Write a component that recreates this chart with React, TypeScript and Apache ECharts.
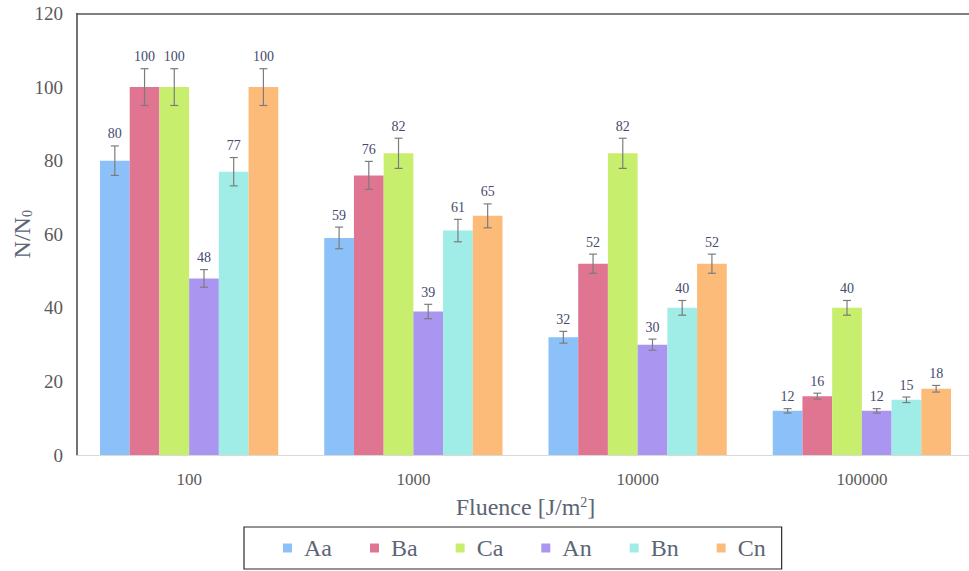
import React, { useEffect, useRef } from "react";
import * as echarts from "echarts";

// Fluence levels on the x axis
const fluences = ["100", "1000", "10000", "100000"];

// Survival ratio N/N0 per sample
const seriesNames = ["Aa", "Ba", "Ca", "An", "Bn", "Cn"];
const aa = [80, 59, 32, 12];
const ba = [100, 76, 52, 16];
const ca = [100, 82, 82, 40];
const an = [48, 39, 30, 12];
const bn = [77, 61, 40, 15];
const cn = [100, 65, 52, 18];

// Error bar half-heights
const aaErr = [4, 2.95, 1.6, 0.6];
const baErr = [5, 3.8, 2.6, 0.8];
const caErr = [5, 4.1, 4.1, 2];
const anErr = [2.4, 1.95, 1.5, 0.6];
const bnErr = [3.85, 3.05, 2, 0.75];
const cnErr = [5, 3.25, 2.6, 0.9];

const colors = ["#8cc0f8", "#e07592", "#c8ee6e", "#aa96f0", "#a0ece6", "#fdbb7a"];

const yTicks = { min: 0, max: 120, interval: 20 };

const SERIF = "Liberation Serif";
const CATEGORY_GAP = 0.205;

export default function App() {
  const ref = useRef<HTMLDivElement>(null);

  useEffect(() => {
    if (!ref.current) return;
    const chart = echarts.init(ref.current, null, { renderer: "svg" });

    const values = [aa, ba, ca, an, bn, cn];
    const errors = [aaErr, baErr, caErr, anErr, bnErr, cnErr];

    const barSeries = seriesNames.map((name, k) => ({
      name,
      type: "bar",
      data: values[k],
      barGap: "0%",
      barCategoryGap: `${CATEGORY_GAP * 100}%`,
      itemStyle: { color: colors[k] },
      z: 2,
    }));

    const errData: number[][] = [];
    values.forEach((vals, k) => {
      vals.forEach((v, i) => errData.push([i, v, errors[k][i], k]));
    });

    const errorSeries = {
      type: "custom",
      name: "error",
      xAxisIndex: 0,
      yAxisIndex: 0,
      z: 5,
      encode: { x: 0, y: 1 },
      data: errData,
      renderItem: (_params: any, api: any) => {
        const cat = api.value(0);
        const val = api.value(1);
        const err = api.value(2);
        const k = api.value(3);
        const band = api.size([1, 0])[0];
        const groupW = band * (1 - CATEGORY_GAP);
        const bw = groupW / seriesNames.length;
        const c = api.coord([cat, val]);
        const x = c[0] - groupW / 2 + bw * (k + 0.5);
        const yTop = api.coord([cat, val + err])[1];
        const yBot = api.coord([cat, val - err])[1];
        const cap = 4;
        const stroke = { stroke: "#7c7c7c", lineWidth: 1.2 };
        return {
          type: "group",
          children: [
            { type: "line", shape: { x1: x, y1: yTop, x2: x, y2: yBot }, style: stroke },
            { type: "line", shape: { x1: x - cap, y1: yTop, x2: x + cap, y2: yTop }, style: stroke },
            { type: "line", shape: { x1: x - cap, y1: yBot, x2: x + cap, y2: yBot }, style: stroke },
            {
              type: "text",
              x,
              y: yTop - 5,
              style: {
                text: String(val),
                align: "center",
                verticalAlign: "bottom",
                fill: "#454a6e",
                fontSize: 14,
                fontFamily: SERIF,
              },
            },
          ],
        };
      },
    };

    chart.setOption({
      animation: false,
      backgroundColor: "#ffffff",
      grid: {
        left: 77,
        right: -5,
        top: 13.5,
        bottom: 116,
        containLabel: false,
        outerBoundsMode: "none",
      },
      legend: {
        data: seriesNames,
        left: 244,
        top: 527,
        orient: "horizontal",
        icon: "rect",
        itemWidth: 9,
        itemHeight: 9,
        itemGap: 38,
        padding: [9, 16, 9, 39],
        borderColor: "#2a2a2a",
        borderWidth: 1.2,
        formatter: "{t|{name}}",
        textStyle: {
          fontFamily: SERIF,
          rich: {
            t: {
              fontFamily: SERIF,
              fontSize: 24,
              color: "#5b6574",
              padding: [0, 0, 0, 7],
            },
          },
        },
      },
      xAxis: [
        {
          type: "category",
          data: fluences,
          position: "bottom",
          axisLine: { show: true, lineStyle: { color: "#d9d9d9", width: 1 } },
          axisTick: { show: false },
          axisLabel: {
            margin: 16,
            fontFamily: SERIF,
            fontSize: 17,
            color: "#5a5a5a",
          },
          name: "{a|Fluence [J/m}{s|2}{a|]}",
          nameLocation: "middle",
          nameGap: 40,
          nameMoveOverlap: false,
          nameTextStyle: {
            fontFamily: SERIF,
            rich: {
              a: {
                fontFamily: SERIF,
                fontSize: 24,
                color: "#5b6574",
                lineHeight: 26,
                verticalAlign: "top",
              },
              s: {
                fontFamily: SERIF,
                fontSize: 14,
                color: "#5b6574",
                lineHeight: 18,
                verticalAlign: "top",
              },
            },
          },
        },
        {
          type: "category",
          data: fluences,
          position: "top",
          axisLine: { show: true, lineStyle: { color: "#555555", width: 1.5 } },
          axisTick: { show: false },
          axisLabel: { show: false },
        },
      ],
      yAxis: {
        type: "value",
        min: yTicks.min,
        max: yTicks.max,
        interval: yTicks.interval,
        axisLine: { show: true, lineStyle: { color: "#444444", width: 1.5 } },
        axisTick: { show: false },
        splitLine: { show: false },
        axisLabel: {
          margin: 14,
          fontFamily: SERIF,
          fontSize: 19,
          color: "#5a5a5a",
        },
        name: "{a|N/N}{s|0}",
        nameLocation: "middle",
        nameGap: 43,
        nameMoveOverlap: false,
        nameTextStyle: {
          fontFamily: SERIF,
          rich: {
            a: {
              fontFamily: SERIF,
              fontSize: 24,
              color: "#5b6574",
              lineHeight: 26,
              verticalAlign: "bottom",
            },
            s: {
              fontFamily: SERIF,
              fontSize: 14,
              color: "#5b6574",
              lineHeight: 8,
              verticalAlign: "bottom",
            },
          },
        },
      },
      series: [...barSeries, errorSeries],
    });

    return () => chart.dispose();
  }, []);

  return (
    <div
      ref={ref}
      style={{ position: "fixed", left: 0, top: 0, width: 969, height: 571 }}
    />
  );
}
